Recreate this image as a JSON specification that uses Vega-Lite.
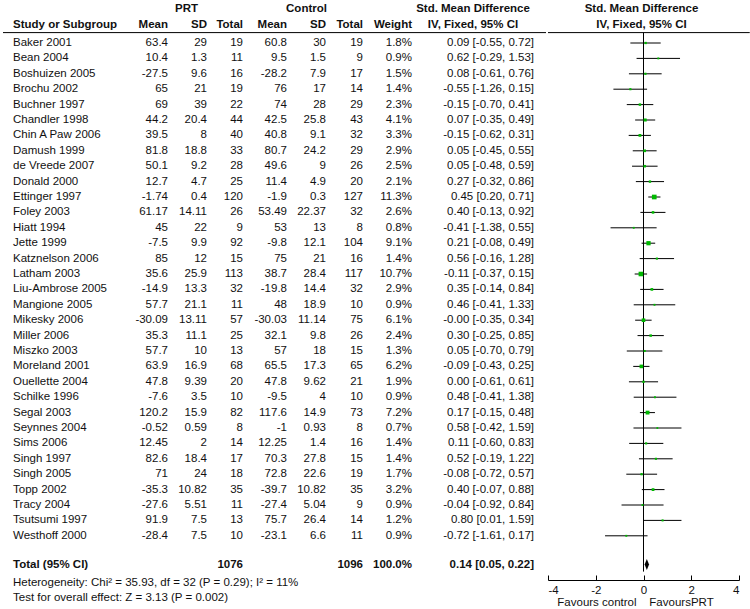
{
  "$schema": "https://vega.github.io/schema/vega-lite/v6.json",
  "padding": {"top": 2.5, "left": 2, "right": 0, "bottom": 0},
  "background": "white",
  "config": {
    "font": "Liberation Sans",
    "view": {"stroke": null},
    "text": {"font": "Liberation Sans", "fontSize": 11.5, "color": "#111"},
    "axisY": {"disable": true},
    "rule": {"color": "#000", "strokeWidth": 1}
  },
  "datasets": {
    "studies": [
      {"study": "Baker 2001", "pm": 63.4, "ps": 29, "pn": 19, "cm": 60.8, "cs": 30, "cn": 19, "weight": 1.8, "smd": 0.09, "lo": -0.55, "hi": 0.72, "ci": "0.09 [-0.55, 0.72]"},
      {"study": "Bean 2004", "pm": 10.4, "ps": 1.3, "pn": 11, "cm": 9.5, "cs": 1.5, "cn": 9, "weight": 0.9, "smd": 0.62, "lo": -0.29, "hi": 1.53, "ci": "0.62 [-0.29, 1.53]"},
      {"study": "Boshuizen 2005", "pm": -27.5, "ps": 9.6, "pn": 16, "cm": -28.2, "cs": 7.9, "cn": 17, "weight": 1.5, "smd": 0.08, "lo": -0.61, "hi": 0.76, "ci": "0.08 [-0.61, 0.76]"},
      {"study": "Brochu 2002", "pm": 65, "ps": 21, "pn": 19, "cm": 76, "cs": 17, "cn": 14, "weight": 1.4, "smd": -0.55, "lo": -1.26, "hi": 0.15, "ci": "-0.55 [-1.26, 0.15]"},
      {"study": "Buchner 1997", "pm": 69, "ps": 39, "pn": 22, "cm": 74, "cs": 28, "cn": 29, "weight": 2.3, "smd": -0.15, "lo": -0.70, "hi": 0.41, "ci": "-0.15 [-0.70, 0.41]"},
      {"study": "Chandler 1998", "pm": 44.2, "ps": 20.4, "pn": 44, "cm": 42.5, "cs": 25.8, "cn": 43, "weight": 4.1, "smd": 0.07, "lo": -0.35, "hi": 0.49, "ci": "0.07 [-0.35, 0.49]"},
      {"study": "Chin A Paw 2006", "pm": 39.5, "ps": 8, "pn": 40, "cm": 40.8, "cs": 9.1, "cn": 32, "weight": 3.3, "smd": -0.15, "lo": -0.62, "hi": 0.31, "ci": "-0.15 [-0.62, 0.31]"},
      {"study": "Damush 1999", "pm": 81.8, "ps": 18.8, "pn": 33, "cm": 80.7, "cs": 24.2, "cn": 29, "weight": 2.9, "smd": 0.05, "lo": -0.45, "hi": 0.55, "ci": "0.05 [-0.45, 0.55]"},
      {"study": "de Vreede 2007", "pm": 50.1, "ps": 9.2, "pn": 28, "cm": 49.6, "cs": 9, "cn": 26, "weight": 2.5, "smd": 0.05, "lo": -0.48, "hi": 0.59, "ci": "0.05 [-0.48, 0.59]"},
      {"study": "Donald 2000", "pm": 12.7, "ps": 4.7, "pn": 25, "cm": 11.4, "cs": 4.9, "cn": 20, "weight": 2.1, "smd": 0.27, "lo": -0.32, "hi": 0.86, "ci": "0.27 [-0.32, 0.86]"},
      {"study": "Ettinger 1997", "pm": -1.74, "ps": 0.4, "pn": 120, "cm": -1.9, "cs": 0.3, "cn": 127, "weight": 11.3, "smd": 0.45, "lo": 0.20, "hi": 0.71, "ci": "0.45 [0.20, 0.71]"},
      {"study": "Foley 2003", "pm": 61.17, "ps": 14.11, "pn": 26, "cm": 53.49, "cs": 22.37, "cn": 32, "weight": 2.6, "smd": 0.40, "lo": -0.13, "hi": 0.92, "ci": "0.40 [-0.13, 0.92]"},
      {"study": "Hiatt 1994", "pm": 45, "ps": 22, "pn": 9, "cm": 53, "cs": 13, "cn": 8, "weight": 0.8, "smd": -0.41, "lo": -1.38, "hi": 0.55, "ci": "-0.41 [-1.38, 0.55]"},
      {"study": "Jette 1999", "pm": -7.5, "ps": 9.9, "pn": 92, "cm": -9.8, "cs": 12.1, "cn": 104, "weight": 9.1, "smd": 0.21, "lo": -0.08, "hi": 0.49, "ci": "0.21 [-0.08, 0.49]"},
      {"study": "Katznelson 2006", "pm": 85, "ps": 12, "pn": 15, "cm": 75, "cs": 21, "cn": 16, "weight": 1.4, "smd": 0.56, "lo": -0.16, "hi": 1.28, "ci": "0.56 [-0.16, 1.28]"},
      {"study": "Latham 2003", "pm": 35.6, "ps": 25.9, "pn": 113, "cm": 38.7, "cs": 28.4, "cn": 117, "weight": 10.7, "smd": -0.11, "lo": -0.37, "hi": 0.15, "ci": "-0.11 [-0.37, 0.15]"},
      {"study": "Liu-Ambrose 2005", "pm": -14.9, "ps": 13.3, "pn": 32, "cm": -19.8, "cs": 14.4, "cn": 32, "weight": 2.9, "smd": 0.35, "lo": -0.14, "hi": 0.84, "ci": "0.35 [-0.14, 0.84]"},
      {"study": "Mangione 2005", "pm": 57.7, "ps": 21.1, "pn": 11, "cm": 48, "cs": 18.9, "cn": 10, "weight": 0.9, "smd": 0.46, "lo": -0.41, "hi": 1.33, "ci": "0.46 [-0.41, 1.33]"},
      {"study": "Mikesky 2006", "pm": -30.09, "ps": 13.11, "pn": 57, "cm": -30.03, "cs": 11.14, "cn": 75, "weight": 6.1, "smd": 0.0, "lo": -0.35, "hi": 0.34, "ci": "-0.00 [-0.35, 0.34]"},
      {"study": "Miller 2006", "pm": 35.3, "ps": 11.1, "pn": 25, "cm": 32.1, "cs": 9.8, "cn": 26, "weight": 2.4, "smd": 0.30, "lo": -0.25, "hi": 0.85, "ci": "0.30 [-0.25, 0.85]"},
      {"study": "Miszko 2003", "pm": 57.7, "ps": 10, "pn": 13, "cm": 57, "cs": 18, "cn": 15, "weight": 1.3, "smd": 0.05, "lo": -0.70, "hi": 0.79, "ci": "0.05 [-0.70, 0.79]"},
      {"study": "Moreland 2001", "pm": 63.9, "ps": 16.9, "pn": 68, "cm": 65.5, "cs": 17.3, "cn": 65, "weight": 6.2, "smd": -0.09, "lo": -0.43, "hi": 0.25, "ci": "-0.09 [-0.43, 0.25]"},
      {"study": "Ouellette 2004", "pm": 47.8, "ps": 9.39, "pn": 20, "cm": 47.8, "cs": 9.62, "cn": 21, "weight": 1.9, "smd": 0.00, "lo": -0.61, "hi": 0.61, "ci": "0.00 [-0.61, 0.61]"},
      {"study": "Schilke 1996", "pm": -7.6, "ps": 3.5, "pn": 10, "cm": -9.5, "cs": 4, "cn": 10, "weight": 0.9, "smd": 0.48, "lo": -0.41, "hi": 1.38, "ci": "0.48 [-0.41, 1.38]"},
      {"study": "Segal 2003", "pm": 120.2, "ps": 15.9, "pn": 82, "cm": 117.6, "cs": 14.9, "cn": 73, "weight": 7.2, "smd": 0.17, "lo": -0.15, "hi": 0.48, "ci": "0.17 [-0.15, 0.48]"},
      {"study": "Seynnes 2004", "pm": -0.52, "ps": 0.59, "pn": 8, "cm": -1, "cs": 0.93, "cn": 8, "weight": 0.7, "smd": 0.58, "lo": -0.42, "hi": 1.59, "ci": "0.58 [-0.42, 1.59]"},
      {"study": "Sims 2006", "pm": 12.45, "ps": 2, "pn": 14, "cm": 12.25, "cs": 1.4, "cn": 16, "weight": 1.4, "smd": 0.11, "lo": -0.60, "hi": 0.83, "ci": "0.11 [-0.60, 0.83]"},
      {"study": "Singh 1997", "pm": 82.6, "ps": 18.4, "pn": 17, "cm": 70.3, "cs": 27.8, "cn": 15, "weight": 1.4, "smd": 0.52, "lo": -0.19, "hi": 1.22, "ci": "0.52 [-0.19, 1.22]"},
      {"study": "Singh 2005", "pm": 71, "ps": 24, "pn": 18, "cm": 72.8, "cs": 22.6, "cn": 19, "weight": 1.7, "smd": -0.08, "lo": -0.72, "hi": 0.57, "ci": "-0.08 [-0.72, 0.57]"},
      {"study": "Topp 2002", "pm": -35.3, "ps": 10.82, "pn": 35, "cm": -39.7, "cs": 10.82, "cn": 35, "weight": 3.2, "smd": 0.40, "lo": -0.07, "hi": 0.88, "ci": "0.40 [-0.07, 0.88]"},
      {"study": "Tracy 2004", "pm": -27.6, "ps": 5.51, "pn": 11, "cm": -27.4, "cs": 5.04, "cn": 9, "weight": 0.9, "smd": -0.04, "lo": -0.92, "hi": 0.84, "ci": "-0.04 [-0.92, 0.84]"},
      {"study": "Tsutsumi 1997", "pm": 91.9, "ps": 7.5, "pn": 13, "cm": 75.7, "cs": 26.4, "cn": 14, "weight": 1.2, "smd": 0.80, "lo": 0.01, "hi": 1.59, "ci": "0.80 [0.01, 1.59]"},
      {"study": "Westhoff 2000", "pm": -28.4, "ps": 7.5, "pn": 10, "cm": -23.1, "cs": 6.6, "cn": 11, "weight": 0.9, "smd": -0.72, "lo": -1.61, "hi": 0.17, "ci": "-0.72 [-1.61, 0.17]"},
      {"study": "Total (95% CI)", "pn": 1076, "cn": 1096, "weight": 100, "smd": 0.14, "lo": 0.05, "hi": 0.22, "ci": "0.14 [0.05, 0.22]"}
    ],
    "head": [
      {"col": "study", "row": "h2", "text": "Study or Subgroup"},
      {"col": "pm", "row": "h2", "text": "Mean"},
      {"col": "ps", "row": "h1", "text": "PRT"},
      {"col": "ps", "row": "h2", "text": "SD"},
      {"col": "pn", "row": "h2", "text": "Total"},
      {"col": "cm", "row": "h2", "text": "Mean"},
      {"col": "cs", "row": "h1", "text": "Control"},
      {"col": "cs", "row": "h2", "text": "SD"},
      {"col": "cn", "row": "h2", "text": "Total"},
      {"col": "w", "row": "h2", "text": "Weight"},
      {"col": "ci", "row": "h1", "text": "Std. Mean Difference"},
      {"col": "ci", "row": "h2", "text": "IV, Fixed, 95% CI"},
      {"col": "plot", "row": "h1", "text": "Std. Mean Difference"},
      {"col": "plot", "row": "h2", "text": "IV, Fixed, 95% CI"}
    ],
    "notes": [
      {"row": "het", "text": "Heterogeneity: Chi² = 35.93, df = 32 (P = 0.29); I² = 11%"},
      {"row": "test", "text": "Test for overall effect: Z = 3.13 (P = 0.002)"}
    ],
    "line": [{"row": "h2"}],
    "zero": [{"effect": 0, "row": "h2"}, {"effect": 0, "row": "Total (95% CI)"}]
  },
  "spacing": 0,
  "bounds": "full",
  "hconcat": [
    {
      "spacing": 0,
      "bounds": "flush",
      "resolve": {"scale": {"y": "shared"}},
      "hconcat": [
        {
          "width": 126, "height": 600.6,
          "layer": [
            {"data": {"name": "studies"}, "transform": [{"filter": "datum.study !== 'Total (95% CI)'"}],
             "mark": {"type": "text", "align": "left", "x": 0, "dx": 10},
             "encoding": {
               "y": {"field": "study", "type": "nominal", "scale": {"domain": ["h1","h2","Baker 2001","Bean 2004","Boshuizen 2005","Brochu 2002","Buchner 1997","Chandler 1998","Chin A Paw 2006","Damush 1999","de Vreede 2007","Donald 2000","Ettinger 1997","Foley 2003","Hiatt 1994","Jette 1999","Katznelson 2006","Latham 2003","Liu-Ambrose 2005","Mangione 2005","Mikesky 2006","Miller 2006","Miszko 2003","Moreland 2001","Ouellette 2004","Schilke 1996","Segal 2003","Seynnes 2004","Sims 2006","Singh 1997","Singh 2005","Topp 2002","Tracy 2004","Tsutsumi 1997","Westhoff 2000","gap","Total (95% CI)","het","test"]}},
               "text": {"field": "study", "type": "nominal"}}},
            {"data": {"name": "studies"}, "transform": [{"filter": "datum.study === 'Total (95% CI)'"}],
             "mark": {"type": "text", "align": "left", "x": 0, "dx": 10, "dy": -2, "fontWeight": "bold"},
             "encoding": {"y": {"field": "study", "type": "nominal"}, "text": {"field": "study", "type": "nominal"}}},
            {"data": {"name": "head"}, "transform": [{"filter": "datum.col === 'study'"}],
             "mark": {"type": "text", "align": "left", "x": 0, "dx": 10, "dy": -3, "fontWeight": "bold"},
             "encoding": {"y": {"field": "row", "type": "nominal"}, "text": {"field": "text", "type": "nominal"}}},
            {"data": {"name": "notes"},
             "mark": {"type": "text", "align": "left", "x": 0, "dx": 10, "dy": 1},
             "encoding": {"y": {"field": "row", "type": "nominal"}, "text": {"field": "text", "type": "nominal"}}},
            {"data": {"name": "line"}, "mark": {"type": "rule", "yOffset": 5},
             "encoding": {"y": {"field": "row", "type": "nominal"}}}
          ]
        },
        {
          "width": 39, "height": 600.6,
          "layer": [
            {"data": {"name": "studies"}, "transform": [{"filter": "isValid(datum.pm)"}],
             "mark": {"type": "text", "align": "right", "x": "width"},
             "encoding": {"y": {"field": "study", "type": "nominal"}, "text": {"field": "pm", "type": "nominal"}}},
            {"data": {"name": "head"}, "transform": [{"filter": "datum.col === 'pm'"}],
             "mark": {"type": "text", "align": "right", "x": "width", "dy": -3, "fontWeight": "bold"},
             "encoding": {"y": {"field": "row", "type": "nominal"}, "text": {"field": "text", "type": "nominal"}}},
            {"data": {"name": "line"}, "mark": {"type": "rule", "yOffset": 5},
             "encoding": {"y": {"field": "row", "type": "nominal"}}}
          ]
        },
        {
          "width": 39, "height": 600.6,
          "layer": [
            {"data": {"name": "studies"}, "transform": [{"filter": "isValid(datum.ps)"}],
             "mark": {"type": "text", "align": "right", "x": "width"},
             "encoding": {"y": {"field": "study", "type": "nominal"}, "text": {"field": "ps", "type": "nominal"}}},
            {"data": {"name": "head"}, "transform": [{"filter": "datum.col === 'ps' && datum.row === 'h2'"}],
             "mark": {"type": "text", "align": "right", "x": "width", "dy": -3, "fontWeight": "bold"},
             "encoding": {"y": {"field": "row", "type": "nominal"}, "text": {"field": "text", "type": "nominal"}}},
            {"data": {"name": "head"}, "transform": [{"filter": "datum.col === 'ps' && datum.row === 'h1'"}],
             "mark": {"type": "text", "align": "center", "dx": -1, "dy": -3, "fontWeight": "bold"},
             "encoding": {"y": {"field": "row", "type": "nominal"}, "text": {"field": "text", "type": "nominal"}}},
            {"data": {"name": "line"}, "mark": {"type": "rule", "yOffset": 5},
             "encoding": {"y": {"field": "row", "type": "nominal"}}}
          ]
        },
        {
          "width": 36, "height": 600.6,
          "layer": [
            {"data": {"name": "studies"}, "transform": [{"filter": "datum.study !== 'Total (95% CI)'"}],
             "mark": {"type": "text", "align": "right", "x": "width"},
             "encoding": {"y": {"field": "study", "type": "nominal"}, "text": {"field": "pn", "type": "nominal"}}},
            {"data": {"name": "studies"}, "transform": [{"filter": "datum.study === 'Total (95% CI)'"}],
             "mark": {"type": "text", "align": "right", "x": "width", "dy": -2, "fontWeight": "bold"},
             "encoding": {"y": {"field": "study", "type": "nominal"}, "text": {"field": "pn", "type": "nominal"}}},
            {"data": {"name": "head"}, "transform": [{"filter": "datum.col === 'pn'"}],
             "mark": {"type": "text", "align": "right", "x": "width", "dy": -3, "fontWeight": "bold"},
             "encoding": {"y": {"field": "row", "type": "nominal"}, "text": {"field": "text", "type": "nominal"}}},
            {"data": {"name": "line"}, "mark": {"type": "rule", "yOffset": 5},
             "encoding": {"y": {"field": "row", "type": "nominal"}}}
          ]
        },
        {
          "width": 44, "height": 600.6,
          "layer": [
            {"data": {"name": "studies"}, "transform": [{"filter": "isValid(datum.cm)"}],
             "mark": {"type": "text", "align": "right", "x": "width"},
             "encoding": {"y": {"field": "study", "type": "nominal"}, "text": {"field": "cm", "type": "nominal"}}},
            {"data": {"name": "head"}, "transform": [{"filter": "datum.col === 'cm'"}],
             "mark": {"type": "text", "align": "right", "x": "width", "dy": -3, "fontWeight": "bold"},
             "encoding": {"y": {"field": "row", "type": "nominal"}, "text": {"field": "text", "type": "nominal"}}},
            {"data": {"name": "line"}, "mark": {"type": "rule", "yOffset": 5},
             "encoding": {"y": {"field": "row", "type": "nominal"}}}
          ]
        },
        {
          "width": 39, "height": 600.6,
          "layer": [
            {"data": {"name": "studies"}, "transform": [{"filter": "isValid(datum.cs)"}],
             "mark": {"type": "text", "align": "right", "x": "width"},
             "encoding": {"y": {"field": "study", "type": "nominal"}, "text": {"field": "cs", "type": "nominal"}}},
            {"data": {"name": "head"}, "transform": [{"filter": "datum.col === 'cs' && datum.row === 'h2'"}],
             "mark": {"type": "text", "align": "right", "x": "width", "dy": -3, "fontWeight": "bold"},
             "encoding": {"y": {"field": "row", "type": "nominal"}, "text": {"field": "text", "type": "nominal"}}},
            {"data": {"name": "head"}, "transform": [{"filter": "datum.col === 'cs' && datum.row === 'h1'"}],
             "mark": {"type": "text", "align": "center", "dy": -3, "fontWeight": "bold"},
             "encoding": {"y": {"field": "row", "type": "nominal"}, "text": {"field": "text", "type": "nominal"}}},
            {"data": {"name": "line"}, "mark": {"type": "rule", "yOffset": 5},
             "encoding": {"y": {"field": "row", "type": "nominal"}}}
          ]
        },
        {
          "width": 37, "height": 600.6,
          "layer": [
            {"data": {"name": "studies"}, "transform": [{"filter": "datum.study !== 'Total (95% CI)'"}],
             "mark": {"type": "text", "align": "right", "x": "width"},
             "encoding": {"y": {"field": "study", "type": "nominal"}, "text": {"field": "cn", "type": "nominal"}}},
            {"data": {"name": "studies"}, "transform": [{"filter": "datum.study === 'Total (95% CI)'"}],
             "mark": {"type": "text", "align": "right", "x": "width", "dy": -2, "fontWeight": "bold"},
             "encoding": {"y": {"field": "study", "type": "nominal"}, "text": {"field": "cn", "type": "nominal"}}},
            {"data": {"name": "head"}, "transform": [{"filter": "datum.col === 'cn'"}],
             "mark": {"type": "text", "align": "right", "x": "width", "dy": -3, "fontWeight": "bold"},
             "encoding": {"y": {"field": "row", "type": "nominal"}, "text": {"field": "text", "type": "nominal"}}},
            {"data": {"name": "line"}, "mark": {"type": "rule", "yOffset": 5},
             "encoding": {"y": {"field": "row", "type": "nominal"}}}
          ]
        },
        {
          "width": 49, "height": 600.6,
          "layer": [
            {"data": {"name": "studies"}, "transform": [{"filter": "datum.study !== 'Total (95% CI)'"}, {"calculate": "format(datum.weight, '.1f') + '%'", "as": "wl"}],
             "mark": {"type": "text", "align": "right", "x": "width"},
             "encoding": {"y": {"field": "study", "type": "nominal"}, "text": {"field": "wl", "type": "nominal"}}},
            {"data": {"name": "studies"}, "transform": [{"filter": "datum.study === 'Total (95% CI)'"}, {"calculate": "format(datum.weight, '.1f') + '%'", "as": "wl"}],
             "mark": {"type": "text", "align": "right", "x": "width", "dy": -2, "fontWeight": "bold"},
             "encoding": {"y": {"field": "study", "type": "nominal"}, "text": {"field": "wl", "type": "nominal"}}},
            {"data": {"name": "head"}, "transform": [{"filter": "datum.col === 'w'"}],
             "mark": {"type": "text", "align": "right", "x": "width", "dy": -3, "fontWeight": "bold"},
             "encoding": {"y": {"field": "row", "type": "nominal"}, "text": {"field": "text", "type": "nominal"}}},
            {"data": {"name": "line"}, "mark": {"type": "rule", "yOffset": 5},
             "encoding": {"y": {"field": "row", "type": "nominal"}}}
          ]
        },
        {
          "width": 134, "height": 600.6,
          "layer": [
            {"data": {"name": "studies"}, "transform": [{"filter": "datum.study !== 'Total (95% CI)'"}],
             "mark": {"type": "text", "align": "right", "x": "width", "dx": -12},
             "encoding": {"y": {"field": "study", "type": "nominal"}, "text": {"field": "ci", "type": "nominal"}}},
            {"data": {"name": "studies"}, "transform": [{"filter": "datum.study === 'Total (95% CI)'"}],
             "mark": {"type": "text", "align": "right", "x": "width", "dx": -12, "dy": -2, "fontWeight": "bold"},
             "encoding": {"y": {"field": "study", "type": "nominal"}, "text": {"field": "ci", "type": "nominal"}}},
            {"data": {"name": "head"}, "transform": [{"filter": "datum.col === 'ci'"}],
             "mark": {"type": "text", "align": "center", "dx": -6, "dy": -3, "fontWeight": "bold"},
             "encoding": {"y": {"field": "row", "type": "nominal"}, "text": {"field": "text", "type": "nominal"}}},
            {"data": {"name": "line"}, "mark": {"type": "rule", "yOffset": 5},
             "encoding": {"y": {"field": "row", "type": "nominal"}}}
          ]
        }
      ]
    },
    {
      "width": 191, "height": 575.5,
      "layer": [
        {"data": {"name": "studies"}, "transform": [{"filter": "datum.study !== 'Total (95% CI)'"}],
         "mark": {"type": "rule", "color": "#000"},
         "encoding": {
           "y": {"field": "study", "type": "nominal", "scale": {"domain": ["h1","h2","Baker 2001","Bean 2004","Boshuizen 2005","Brochu 2002","Buchner 1997","Chandler 1998","Chin A Paw 2006","Damush 1999","de Vreede 2007","Donald 2000","Ettinger 1997","Foley 2003","Hiatt 1994","Jette 1999","Katznelson 2006","Latham 2003","Liu-Ambrose 2005","Mangione 2005","Mikesky 2006","Miller 2006","Miszko 2003","Moreland 2001","Ouellette 2004","Schilke 1996","Segal 2003","Seynnes 2004","Sims 2006","Singh 1997","Singh 2005","Topp 2002","Tracy 2004","Tsutsumi 1997","Westhoff 2000","gap","Total (95% CI)"], "range": [0, 569.8]}},
           "x": {"field": "lo", "type": "quantitative", "scale": {"domain": [-4, 4], "nice": false, "zero": false},
                 "axis": {"values": [-4, -2, 0, 2, 4], "grid": false, "labelFlush": true, "domainColor": "#000", "tickColor": "#000", "tickSize": -5, "labelPadding": 9, "labelFont": "Liberation Sans", "labelFontSize": 11.5, "labelColor": "#111", "labelExpr": "'' + datum.value", "title": "Favours control\u00a0\u00a0\u00a0\u00a0FavoursPRT", "titleFont": "Liberation Sans", "titleFontSize": 11.5, "titleFontWeight": "normal", "titleColor": "#111", "titlePadding": 1, "titleX": 87, "titleAlign": "center"}},
           "x2": {"field": "hi"}
         }},
        {"data": {"name": "line"}, "mark": {"type": "rule", "yOffset": 5},
         "encoding": {"y": {"field": "row", "type": "nominal"}, "x": {"datum": -4, "type": "quantitative"}, "x2": {"datum": 4.45}}},
        {"data": {"name": "zero"}, "mark": {"type": "line", "color": "#000", "strokeWidth": 1, "yOffset": 5},
         "encoding": {"x": {"field": "effect", "type": "quantitative"}, "y": {"field": "row", "type": "nominal"}}},
        {"data": {"name": "studies"}, "transform": [{"filter": "datum.study !== 'Total (95% CI)'"}],
         "mark": {"type": "point", "shape": "square", "filled": true, "color": "#00b800", "opacity": 1},
         "encoding": {
           "y": {"field": "study", "type": "nominal"},
           "x": {"field": "smd", "type": "quantitative"},
           "size": {"field": "weight", "type": "quantitative", "scale": {"domain": [0, 11.3], "range": [2, 22]}, "legend": null}
         }},
        {"data": {"name": "studies"}, "transform": [{"filter": "datum.study === 'Total (95% CI)'"}],
         "mark": {"type": "point", "shape": "M0,-1L0.4,0L0,1L-0.4,0Z", "filled": true, "color": "#000", "opacity": 1, "size": 121, "yOffset": -2},
         "encoding": {
           "y": {"field": "study", "type": "nominal"},
           "x": {"field": "smd", "type": "quantitative"}
         }},
        {"data": {"name": "head"}, "transform": [{"filter": "datum.col === 'plot'"}],
         "mark": {"type": "text", "align": "center", "dx": -2, "dy": -3, "fontWeight": "bold"},
         "encoding": {"y": {"field": "row", "type": "nominal"}, "x": {"datum": 0, "type": "quantitative"}, "text": {"field": "text", "type": "nominal"}}}
      ]
    }
  ]
}
